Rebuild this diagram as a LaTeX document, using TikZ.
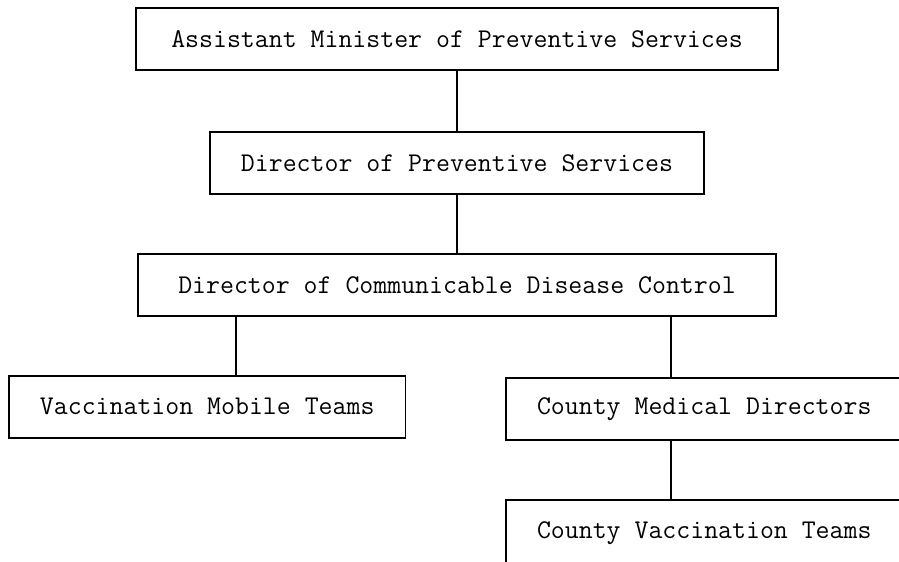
\documentclass[tikz,border=0pt]{standalone}
\usetikzlibrary{positioning}

\begin{document}
\begin{tikzpicture}[
    node distance=1.16cm,
    box/.style={rectangle, draw, line width=1.1pt, text centered, inner xsep=0.62cm, minimum height=1.24cm, font=\fontsize{15.4}{18}\selectfont\ttfamily},
    link/.style={line width=1.1pt}
]

\useasboundingbox (0,0) rectangle (17.98,-11.24);
\clip (0,0) rectangle (17.98,-11.24);

\node[box, minimum width=12.84cm] (asstmin) at (9.14,-0.78) {Assistant Minister of Preventive Services};
\node[box, below=1.2cm of asstmin] (dirprev) {Director of Preventive Services};
\node[box, below=of dirprev, minimum width=12.76cm] (dircdc) {Director of Communicable Disease Control};

\node[box, below=of dircdc.south west, anchor=north west, xshift=-2.58cm] (mobile) {Vaccination Mobile Teams};
\node[box, below=1.2cm of dircdc.south west, anchor=north west, xshift=7.36cm] (county) {County Medical Directors};
\node[box, below=of county.south west, anchor=north west, minimum height=1.32cm] (countyvac) {County Vaccination Teams};

\draw[link] (asstmin) -- (dirprev);
\draw[link] (dirprev) -- (dircdc);
\draw[link] ([xshift=0.57cm]mobile.north) -- ([xshift=0.57cm]mobile.north |- dircdc.south);
\draw[link] ([xshift=-0.67cm]county.north) -- ([xshift=-0.67cm]county.north |- dircdc.south);
\draw[link] ([xshift=-0.67cm]county.south) -- ([xshift=-0.67cm]countyvac.north);

\end{tikzpicture}
\end{document}
